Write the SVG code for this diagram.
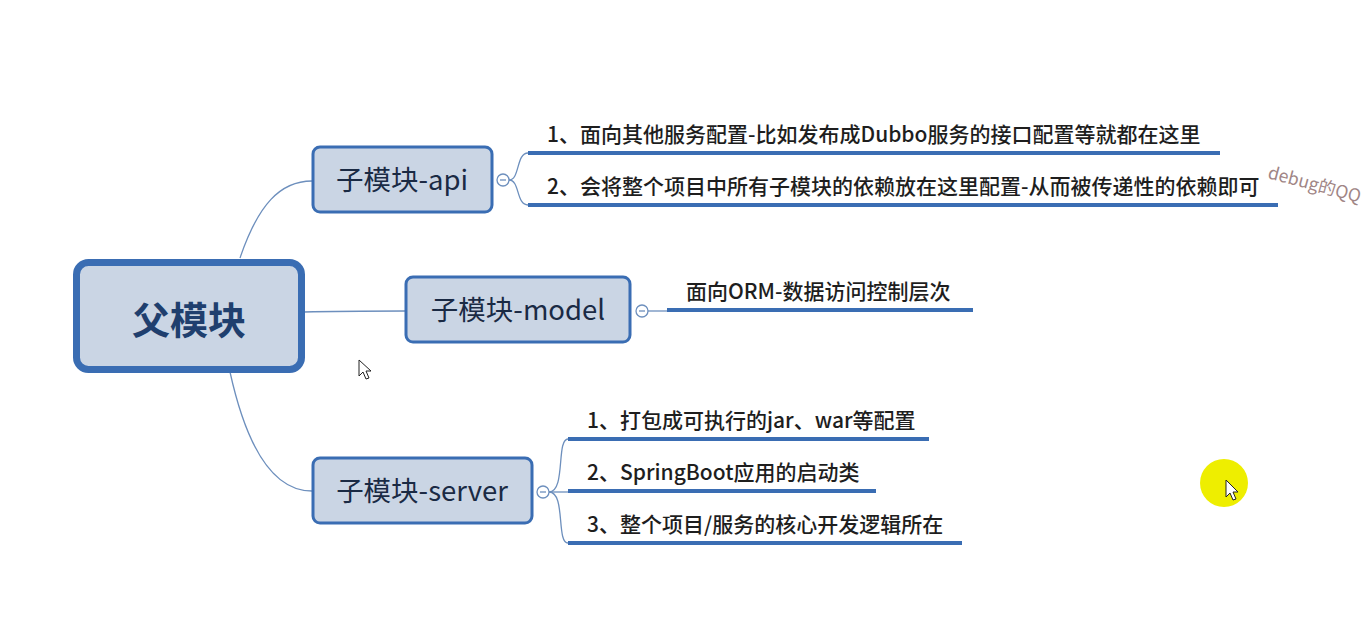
<svg xmlns="http://www.w3.org/2000/svg" width="1369" height="623" viewBox="0 0 1369 623">
<style>
.node rect{fill:#cad5e4;stroke:#3a6db3;stroke-width:3}
.ntext{font-family:"Noto Sans CJK SC","Liberation Sans",sans-serif;font-size:27.5px;fill:#1a2a44;text-anchor:middle}
.leaf{font-family:"Noto Sans CJK SC","Liberation Sans",sans-serif;font-size:21px;fill:#1e1e1e;font-weight:500}
.ul{stroke:#3a6db3;stroke-width:4;fill:none}
.con{stroke:#6d8fbd;stroke-width:1.3;fill:none}
.tog{fill:#ffffff;stroke:#6d8fbd;stroke-width:1.3}
.togm{stroke:#6d8fbd;stroke-width:1.3}
</style>
<rect width="1369" height="623" fill="#ffffff"/>
<g id="connectors">
<path class="con" d="M240,258 C258,205 280,181 312,181"/>
<path class="con" d="M304,312 C340,311 370,311 405,311"/>
<path class="con" d="M230,372 C245,440 270,491 312,491"/>
<path class="con" d="M509,180 C520,180 516,153 528,153"/>
<path class="con" d="M509,180 C520,180 516,205 528,205"/>
<path class="con" d="M648,311 L667,311"/>
<path class="con" d="M549,492 C566,492 556,439 568,439"/>
<path class="con" d="M549,492 L568,492"/>
<path class="con" d="M549,492 C566,492 556,543 568,543"/>
</g>
<g id="root">
<rect x="76.5" y="262.5" width="225" height="107" rx="12" fill="#cad5e4" stroke="#3a6db3" stroke-width="7"/>
<text x="189" y="334" font-family="Noto Sans CJK SC,Liberation Sans,sans-serif" font-size="38" font-weight="bold" fill="#1f3f6e" text-anchor="middle">父模块</text>
</g>
<g id="api" class="node">
<rect x="313" y="147" width="179" height="65" rx="7"/>
<text class="ntext" x="402" y="190">子模块-api</text>
<circle class="tog" cx="503" cy="180" r="6"/><line class="togm" x1="500" y1="180" x2="506" y2="180"/>
</g>
<g id="model" class="node">
<rect x="406" y="277" width="224" height="65" rx="7"/>
<text class="ntext" x="518" y="320">子模块-model</text>
<circle class="tog" cx="642" cy="311" r="6"/><line class="togm" x1="639" y1="311" x2="645" y2="311"/>
</g>
<g id="server" class="node">
<rect x="313" y="458" width="219" height="65" rx="7"/>
<text class="ntext" x="422" y="501">子模块-server</text>
<circle class="tog" cx="543" cy="492" r="6"/><line class="togm" x1="540" y1="492" x2="546" y2="492"/>
</g>
<g id="api-1">
<line class="ul" x1="528" y1="153" x2="1220" y2="153"/>
<text class="leaf" x="547" y="142">1、面向其他服务配置-比如发布成Dubbo服务的接口配置等就都在这里</text>
</g>
<g id="api-2">
<line class="ul" x1="528" y1="205" x2="1278" y2="205"/>
<text class="leaf" x="547" y="194">2、会将整个项目中所有子模块的依赖放在这里配置-从而被传递性的依赖即可</text>
</g>
<g id="model-1">
<line class="ul" x1="667" y1="310" x2="973" y2="310"/>
<text class="leaf" x="686" y="299">面向ORM-数据访问控制层次</text>
</g>
<g id="server-1">
<line class="ul" x1="568" y1="439" x2="929" y2="439"/>
<text class="leaf" x="587" y="428">1、打包成可执行的jar、war等配置</text>
</g>
<g id="server-2">
<line class="ul" x1="568" y1="491" x2="876" y2="491"/>
<text class="leaf" x="587" y="480">2、SpringBoot应用的启动类</text>
</g>
<g id="server-3">
<line class="ul" x1="568" y1="543" x2="962" y2="543"/>
<text class="leaf" x="587" y="532">3、整个项目/服务的核心开发逻辑所在</text>
</g>
<text x="1267" y="178" transform="rotate(15 1267 178)" font-family="Noto Sans CJK SC,Liberation Sans,sans-serif" font-size="17.5" fill="#a08585">debug的QQ</text>
<circle cx="1224" cy="483" r="24" fill="#eeee00"/>
<path d="M1226,480 L1226,497 L1230,493 L1233,500 L1236,499 L1233,492 L1238,492 Z" fill="#ffffff" stroke="#222" stroke-width="1"/>
<path d="M359,360 L359,376 L363,372 L366,379 L369,378 L366,371 L371,371 Z" fill="#ffffff" stroke="#222" stroke-width="1"/>
</svg>
